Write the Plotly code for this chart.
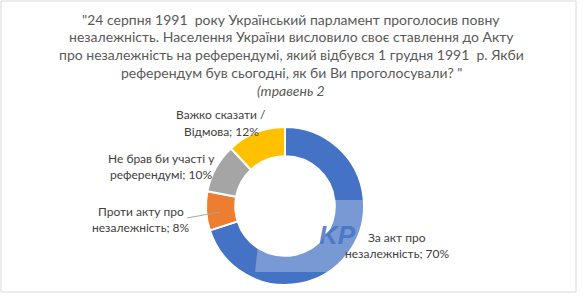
import plotly.graph_objects as go

W, H = 586, 307

categories = ["За акт про незалежність", "Проти акту про незалежність",
              "Не брав би участі у референдумі", "Важко сказати / Відмова"]
values = [70, 8, 10, 12]
colors = ["#4472C4", "#ED7D31", "#A5A5A5", "#FFC000"]
label_lines = [
    ["За акт про", "незалежність; 70%"],
    ["Проти акту про", "незалежність; 8%"],
    ["Не брав би участі у", "референдумі; 10%"],
    ["Важко сказати /", "Відмова; 12%"],
]
title_lines = [
    "\"24 серпня 1991  року Український парламент проголосив повну",
    "незалежність. Населення України висловило своє ставлення до Акту",
    "про незалежність на референдумі, який відбувся 1 грудня 1991  р. Якби",
    "референдум був сьогодні, як би Ви проголосували? \"",
    "<i>(травень 2</i>",
]


def px(x):
    return x / W


def py(y):
    return 1 - y / H


FONT = "Lato"
cx, cy, R = 285, 206, 79

fig = go.Figure()
fig.add_trace(go.Pie(
    labels=categories, values=values, hole=0.63, sort=False,
    direction="clockwise", rotation=0,
    marker=dict(colors=colors, line=dict(color="white", width=2)),
    textinfo="none", hoverinfo="label+percent", showlegend=False,
    domain=dict(x=[px(cx - R), px(cx + R)], y=[py(cy + R), py(cy - R)]),
))

annotations = []
# title
for i, line in enumerate(title_lines):
    annotations.append(dict(
        x=px(291), y=py(19 + i * 17.8), xref="paper", yref="paper",
        text=line, showarrow=False, xanchor="center", yanchor="middle",
        font=dict(family=FONT, size=14, color="#595959")))

label_pos = [(397, 237), (141, 211), (161, 158), (221, 115)]
for (lx, ly), lines in zip(label_pos, label_lines):
    for j, t in enumerate(lines):
        annotations.append(dict(
            x=px(lx), y=py(ly + j * 16), xref="paper", yref="paper",
            text=t, showarrow=False, xanchor="center", yanchor="middle",
            font=dict(family=FONT, size=12, color="#404040")))

# watermark text
annotations.append(dict(
    x=px(337), y=py(235), xref="paper", yref="paper", text="<b><i>KP</i></b>",
    showarrow=False, xanchor="center", yanchor="middle",
    font=dict(family="Liberation Sans", size=26, color="rgba(68,114,196,0.85)")))

shapes = [
    # border
    dict(type="rect", xref="paper", yref="paper", x0=px(1), x1=px(576),
         y0=py(292), y1=py(1), line=dict(color="#D9D9D9", width=1)),
    # leader line
    dict(type="line", xref="paper", yref="paper", x0=px(187), y0=py(218),
         x1=px(220), y1=py(212), line=dict(color="#A6A6A6", width=1)),
    # watermark lighter parallelogram
    dict(type="path", xref="paper", yref="paper", layer="above",
         path=f"M {px(263)},{py(200)} L {px(372)},{py(200)} L {px(372)},{py(272)} L {px(255)},{py(272)} Z",
         fillcolor="rgba(255,255,255,0.28)", line=dict(width=0)),
]

fig.update_layout(
    width=W, height=H, margin=dict(l=0, r=0, t=0, b=0),
    paper_bgcolor="white", plot_bgcolor="white",
    annotations=annotations, shapes=shapes,
)

fig.write_html("out.html")
